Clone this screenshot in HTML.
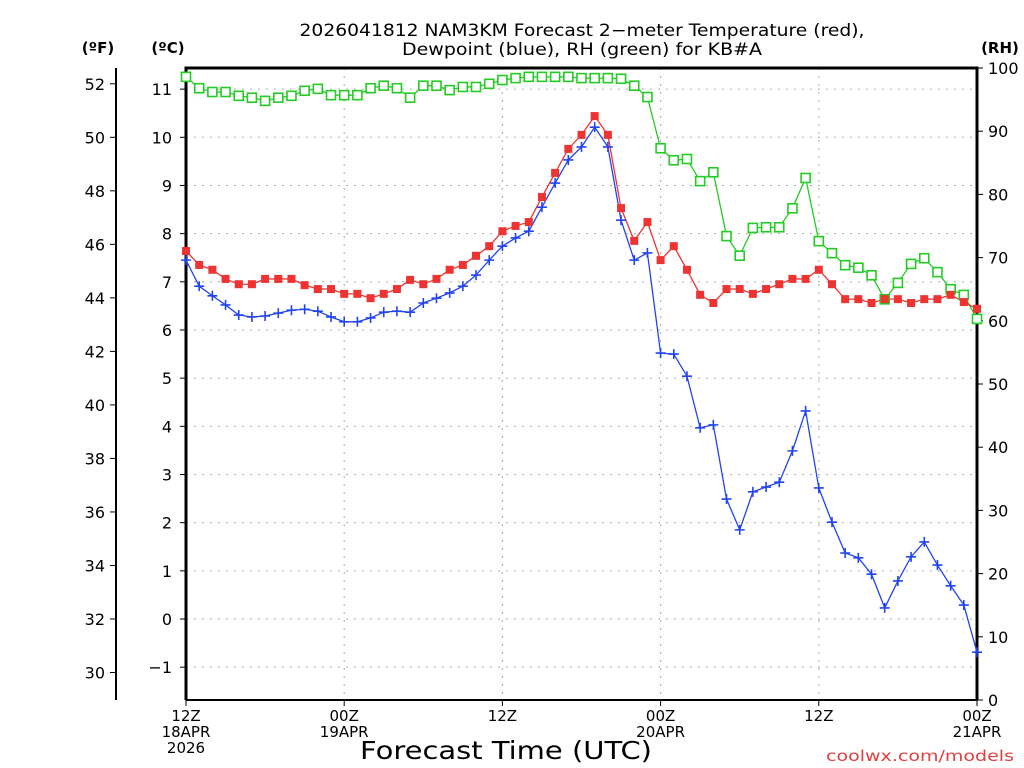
<!DOCTYPE html>
<html><head><meta charset="utf-8"><style>
body{margin:0;background:#fff;}
svg{display:block;font-family:"DejaVu Sans","Liberation Sans",sans-serif;}
</style></head><body>
<svg id="chart" width="1024" height="768" viewBox="0 0 1024 768" xmlns="http://www.w3.org/2000/svg">
<rect width="1024" height="768" fill="#fff"/>
<text x="582" y="36" text-anchor="middle" font-size="17" textLength="565" lengthAdjust="spacingAndGlyphs" fill="#000">2026041812 NAM3KM Forecast 2−meter Temperature (red),</text>
<text x="582" y="55" text-anchor="middle" font-size="17" textLength="360" lengthAdjust="spacingAndGlyphs" fill="#000">Dewpoint (blue), RH (green) for KB#A</text>
<text x="98" y="53" text-anchor="middle" font-size="15" font-weight="bold">(ºF)</text>
<text x="168" y="53" text-anchor="middle" font-size="15" font-weight="bold">(ºC)</text>
<text x="1000" y="53" text-anchor="middle" font-size="15" font-weight="bold">(RH)</text>
<text x="506" y="759" text-anchor="middle" font-size="25" textLength="292" lengthAdjust="spacingAndGlyphs">Forecast Time (UTC)</text>
<text x="1014" y="761" text-anchor="end" font-size="15" textLength="188" lengthAdjust="spacingAndGlyphs" fill="#e04040">coolwx.com/models</text>
<g id="grid"></g><g id="axes"></g><g id="series"></g>
</svg>
<script>
const hours = Array.from({length:61},(_,i)=>i);
const tempC = [7.64,7.35,7.25,7.06,6.95,6.95,7.06,7.06,7.06,6.93,6.85,6.85,6.75,6.75,6.66,6.75,6.85,7.04,6.95,7.06,7.25,7.35,7.54,7.74,8.05,8.16,8.24,8.76,9.26,9.76,10.05,10.44,10.05,8.53,7.85,8.24,7.45,7.74,7.25,6.73,6.56,6.85,6.85,6.75,6.85,6.95,7.06,7.06,7.25,6.95,6.64,6.64,6.56,6.64,6.64,6.56,6.64,6.64,6.73,6.58,6.44];
const dewC = [7.45,6.91,6.71,6.52,6.31,6.27,6.29,6.35,6.41,6.43,6.39,6.27,6.17,6.17,6.25,6.37,6.39,6.37,6.56,6.66,6.77,6.91,7.14,7.45,7.74,7.91,8.05,8.55,9.05,9.53,9.8,10.21,9.8,8.28,7.45,7.6,5.52,5.5,5.04,3.97,4.03,2.49,1.85,2.64,2.74,2.84,3.49,4.32,2.72,2.01,1.37,1.27,0.93,0.23,0.79,1.29,1.6,1.12,0.69,0.29,-0.69];
const rh = [98.6,96.8,96.2,96.2,95.6,95.3,94.8,95.3,95.6,96.4,96.7,95.7,95.7,95.7,96.8,97.2,96.8,95.3,97.2,97.2,96.5,97.0,97.0,97.5,98.1,98.4,98.6,98.6,98.6,98.6,98.4,98.4,98.4,98.3,97.2,95.4,87.3,85.4,85.6,82.1,83.5,73.4,70.3,74.7,74.8,74.8,77.8,82.6,72.6,70.7,68.8,68.4,67.2,63.4,66.0,69.0,69.9,67.7,65.0,64.1,60.3];
const cTicks = [-1,0,1,2,3,4,5,6,7,8,9,10,11];
const fTicks = [30,32,34,36,38,40,42,44,46,48,50,52];
const rhTicks = [0,10,20,30,40,50,60,70,80,90,100];
const xTickHours = [0,12,24,36,48,60];
const xTickLabels = [["12Z","18APR","2026"],["00Z","19APR"],["12Z"],["00Z","20APR"],["12Z"],["00Z","21APR"]];

const L=186,R=977,T=68,B=700;
const X=h=>L+(R-L)*h/60;
const YC=c=>619-48.17*c;
const YF=f=>YC((f-32)*5/9);
const YR=r=>B-(B-T)*r/100;
const NS="http://www.w3.org/2000/svg";
function mk(parent,tag,attrs){const e=document.createElementNS(NS,tag);for(const k in attrs)e.setAttribute(k,attrs[k]);document.getElementById(parent).appendChild(e);return e;}

cTicks.forEach(c=>{const g=mk('grid','line',{x1:L,x2:R,y1:YC(c),y2:YC(c),stroke:'#aaa','stroke-dasharray':'2 6'});

});
xTickHours.slice(1,-1).forEach(h=>{const g=mk('grid','line',{x1:X(h),x2:X(h),y1:T,y2:B,stroke:'#aaa','stroke-dasharray':'2 6'});

});

const fr=mk('axes','path',{d:`M${L},${B}V${T}H${R}V${B}`,fill:'none',stroke:'#000','stroke-width':3});


const bl=mk('axes','line',{x1:L,x2:R,y1:B,y2:B,stroke:'#000','stroke-width':2});


const fl=mk('axes','line',{x1:116,x2:116,y1:T,y2:B,stroke:'#000','stroke-width':2});



cTicks.forEach(c=>{const y=YC(c);mk('axes','line',{x1:180,x2:L,y1:y,y2:y,stroke:'#000'});
const t=mk('axes','text',{x:172,y:y+6,'text-anchor':'end','font-size':16});t.textContent=c<0?'−'+(-c):c;

});
fTicks.forEach(f=>{const y=YF(f);mk('axes','line',{x1:110,x2:116,y1:y,y2:y,stroke:'#000'});
const t=mk('axes','text',{x:105,y:y+6,'text-anchor':'end','font-size':16});t.textContent=f;

});
rhTicks.forEach(r=>{const y=YR(r);mk('axes','line',{x1:R,x2:R+6,y1:y,y2:y,stroke:'#000'});
const t=mk('axes','text',{x:988,y:y+6,'font-size':16});t.textContent=r;

});
xTickHours.forEach((h,i)=>{const x=X(h);mk('axes','line',{x1:x,x2:x,y1:B,y2:B+6,stroke:'#000'});
xTickLabels[i].forEach((s,j)=>{const t=mk('axes','text',{x:x,y:721+j*16,'text-anchor':'middle','font-size':15});t.textContent=s;

});});

function line(vals,yf,color,name){const p=mk('series','polyline',{points:vals.map((v,i)=>X(hours[i])+','+yf(v)).join(' '),fill:'none',stroke:color,'stroke-width':1.3});

}
line(rh,YR,'#22cc22','rh-line');
line(dewC,YC,'#2244ee','dewpoint-line');
line(tempC,YC,'#ee3333','temperature-line');
rh.forEach((v,i)=>{const m=mk('series','rect',{x:X(hours[i])-4.5,y:YR(v)-4.5,width:9,height:9,fill:'#fff',stroke:'#22cc22','stroke-width':1.6});

});
dewC.forEach((v,i)=>{const x=X(hours[i]),y=YC(v);const m=mk('series','path',{d:`M${x-5},${y}H${x+5}M${x},${y-5}V${y+5}`,stroke:'#2244ee','stroke-width':1.6});

});
tempC.forEach((v,i)=>{const m=mk('series','rect',{x:X(hours[i])-4,y:YC(v)-4,width:8,height:8,fill:'#ee3333'});

});
</script>
</body></html>
